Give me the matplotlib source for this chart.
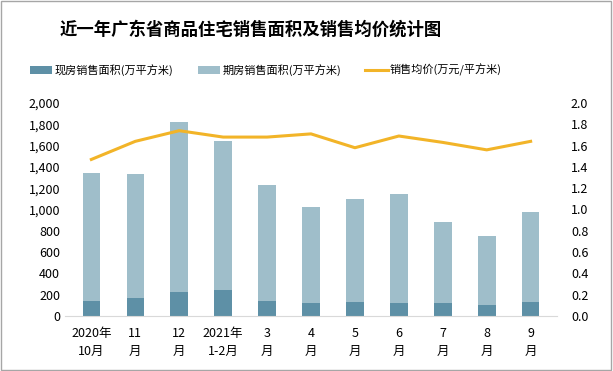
import matplotlib
matplotlib.use("Agg")
import matplotlib.pyplot as plt
import numpy as np
from matplotlib.patches import Rectangle

plt.rcParams['font.family'] = ['Noto Sans CJK SC', 'DejaVu Sans']

categories = ["2020年\n10月", "11\n月", "12\n月", "2021年\n1-2月", "3\n月", "4\n月", "5\n月", "6\n月", "7\n月", "8\n月", "9\n月"]
existing = [140, 165, 225, 240, 145, 120, 135, 120, 120, 100, 135]
total = [1343, 1335, 1820, 1640, 1230, 1020, 1100, 1150, 880, 750, 975]
presale = [t - e for t, e in zip(total, existing)]
price = [1.47, 1.64, 1.74, 1.68, 1.68, 1.71, 1.58, 1.69, 1.63, 1.56, 1.64]

c_exist = "#5E90A6"
c_pre = "#9FBECA"
c_line = "#F2B428"

fig = plt.figure(figsize=(6.13, 3.71), dpi=100)
fig.patches.append(Rectangle((0.002, 0.003), 0.995, 0.993, transform=fig.transFigure,
                             fill=False, edgecolor="#A6A6A6", linewidth=1))
ax = fig.add_axes([65/613, 55/371, (557-65)/613, (316-103)/371])
x = np.arange(len(categories))
w = 0.4
b1 = ax.bar(x, existing, w, color=c_exist, label="现房销售面积(万平方米)", zorder=2)
b2 = ax.bar(x, presale, w, bottom=existing, color=c_pre, label="期房销售面积(万平方米)", zorder=2)
ax.set_ylim(0, 2000)
ax.set_yticks(np.arange(0, 2001, 200))
ax.set_yticklabels([f"{v:,}" for v in range(0, 2001, 200)])
ax.set_xlim(-0.6, len(categories) - 0.4)
ax.set_xticks(x)
ax.set_xticklabels(categories, fontsize=9, linespacing=1.5)
for s in ["top", "right", "left"]:
    ax.spines[s].set_visible(False)
ax.spines["bottom"].set_color("#D9D9D9")
ax.tick_params(axis="both", length=0, labelsize=9)
ax.tick_params(axis="x", pad=8)

ax2 = ax.twinx()
l1, = ax2.plot(x, price, color=c_line, linewidth=2.2, label="销售均价(万元/平方米)", zorder=3)
ax2.set_ylim(0, 2.0)
ax2.set_yticks(np.arange(0, 2.01, 0.2))
ax2.set_yticklabels([f"{v:.1f}" for v in np.arange(0, 2.01, 0.2)])
for s in ax2.spines.values():
    s.set_visible(False)
ax2.tick_params(axis="y", length=0, labelsize=9, pad=10)

fig.text(251/613, 1 - 30/371, "近一年广东省商品住宅销售面积及销售均价统计图", ha="center", va="center",
         fontsize=12.5, fontweight="bold")
fig.legend(handles=[b1, b2, l1], loc="center", bbox_to_anchor=(266/613, 1 - 70/371), ncol=3, frameon=False,
           fontsize=8, handlelength=2.0, handletextpad=0.2, columnspacing=2.2)

fig.savefig("out.png", dpi=100)
